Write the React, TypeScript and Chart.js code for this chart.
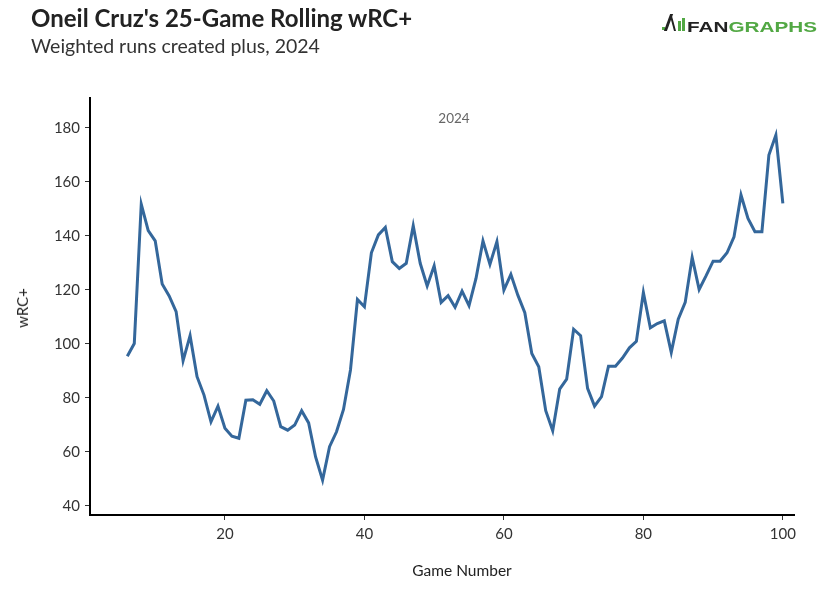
import React, { useEffect, useRef } from "react";
import { Chart, registerables } from "chart.js";

Chart.register(...registerables);

const GAMES: number[] = [
  6, 7, 8, 9, 10, 11, 12, 13, 14, 15, 16, 17, 18, 19, 20, 21, 22, 23, 24, 25,
  26, 27, 28, 29, 30, 31, 32, 33, 34, 35, 36, 37, 38, 39, 40, 41, 42, 43, 44, 45,
  46, 47, 48, 49, 50, 51, 52, 53, 54, 55, 56, 57, 58, 59, 60, 61, 62, 63, 64, 65,
  66, 67, 68, 69, 70, 71, 72, 73, 74, 75, 76, 77, 78, 79, 80, 81, 82, 83, 84, 85,
  86, 87, 88, 89, 90, 91, 92, 93, 94, 95, 96, 97, 98, 99, 100,
];

const WRC_PLUS: number[] = [
  95.4, 100.1, 151.7, 141.9, 138.1, 122.1, 117.7, 111.9, 93.7, 103,
  87.8, 81, 71.1, 76.9, 68.7, 65.8, 65, 79.1, 79.3, 77.6,
  82.6, 78.8, 69.3, 68, 69.9, 75.2, 70.7, 58.1, 49.5, 61.9,
  67.4, 75.7, 90.3, 116.4, 113.7, 133.7, 140.3, 143.1, 130.4, 127.9,
  129.8, 143.7, 129.8, 121.4, 128.9, 115.3, 117.8, 113.5, 119.5, 114.1,
  124.2, 138.1, 129.4, 137.8, 119.9, 125.7, 118, 111.5, 96.4, 91.5,
  75.2, 67.8, 83.2, 86.9, 105.4, 103, 83.5, 76.9, 80.4, 91.7,
  91.7, 94.7, 98.5, 100.9, 119, 105.9, 107.5, 108.5, 96.8, 109.1,
  115.3, 132, 120.1, 125.2, 130.6, 130.6, 133.7, 139.6, 155.1, 146.4,
  141.5, 141.5, 169.9, 177.3, 152,
];

const X_TICKS: number[] = [20, 40, 60, 80, 100];
const Y_TICKS: number[] = [40, 60, 80, 100, 120, 140, 160, 180];

const TITLE = "Oneil Cruz's 25-Game Rolling wRC+";
const SUBTITLE = "Weighted runs created plus, 2024";
const X_TITLE = "Game Number";
const Y_TITLE = "wRC+";
const PANEL_LABEL = "2024";

const LINE_COLOR = "#34679b";
const GREEN = "#52a844";

export default function App() {
  const canvasRef = useRef<HTMLCanvasElement | null>(null);

  useEffect(() => {
    document.body.style.margin = "0";
    const canvas = canvasRef.current;
    if (!canvas) return;
    const tickFont = { family: "Lato", size: 15 };
    const chart = new Chart(canvas, {
      type: "line",
      data: {
        datasets: [
          {
            data: GAMES.map((g, i) => ({ x: g, y: WRC_PLUS[i] })),
            borderColor: LINE_COLOR,
            borderWidth: 3,
            pointRadius: 0,
            tension: 0,
            fill: false,
          },
        ],
      },
      options: {
        animation: false,
        responsive: false,
        maintainAspectRatio: false,
        devicePixelRatio: 1,
        layout: { padding: { top: 98, right: 31, left: 0, bottom: 0 } },
        plugins: {
          legend: { display: false },
          tooltip: { enabled: false },
        },
        scales: {
          x: {
            type: "linear",
            min: 0.65,
            max: 101.6,
            afterBuildTicks: (s: any) => {
              s.ticks = X_TICKS.map((v) => ({ value: v }));
            },
            afterFit: (s: any) => {
              s.height = 76;
            },
            grid: {
              display: true,
              drawOnChartArea: false,
              drawTicks: true,
              tickLength: 5,
              color: "#333",
              lineWidth: 1,
            },
            border: { display: true, color: "#000", width: 2 },
            ticks: {
              font: tickFont,
              color: "#333",
              padding: 5,
              maxRotation: 0,
            },
          },
          y: {
            type: "linear",
            min: 36.6,
            max: 191,
            afterBuildTicks: (s: any) => {
              s.ticks = Y_TICKS.map((v) => ({ value: v }));
            },
            afterFit: (s: any) => {
              s.width = 90;
            },
            grid: {
              display: true,
              drawOnChartArea: false,
              drawTicks: true,
              tickLength: 5,
              color: "#333",
              lineWidth: 1,
            },
            border: { display: true, color: "#000", width: 2 },
            ticks: {
              font: tickFont,
              color: "#333",
              padding: 5,
            },
          },
        },
      },
    });
    let alive = true;
    (document as any).fonts?.ready?.then(() => {
      if (alive) chart.update();
    });
    return () => {
      alive = false;
      chart.destroy();
    };
  }, []);

  const abs = (s: React.CSSProperties): React.CSSProperties => ({
    position: "absolute",
    whiteSpace: "nowrap",
    ...s,
  });

  return (
    <div style={{ position: "relative", width: 825, height: 591, background: "#fff", overflow: "hidden" }}>
      <canvas ref={canvasRef} width={825} height={591} style={{ position: "absolute", left: 0, top: 0, width: 825, height: 591 }} />
      <div style={abs({ left: 31, top: 5.5, font: "bold 24px Lato", lineHeight: 1, color: "#222" })}>{TITLE}</div>
      <div style={abs({ left: 31, top: 36, font: "19.5px Lato", lineHeight: 1, color: "#333" })}>{SUBTITLE}</div>
      {/* logo */}
      <div style={abs({ left: 662, top: 27, width: 3, height: 3, background: GREEN })} />
      <div style={abs({ left: 667, top: 14, width: 3, height: 17, background: "#222", transform: "skewX(-20deg)" })} />
      <div style={abs({ left: 672, top: 16, width: 2, height: 15, background: "#222", transform: "skewX(15deg)" })} />
      <div style={abs({ left: 678, top: 21, width: 2.5, height: 10, background: GREEN })} />
      <div style={abs({ left: 682, top: 18, width: 2.5, height: 13, background: GREEN })} />
      <div
        style={abs({
          left: 687,
          top: 18.5,
          font: "bold 15px 'Liberation Sans', Arial, sans-serif",
          lineHeight: 1,
          transform: "scaleX(1.38)",
          transformOrigin: "left top",
        })}
      >
        <span style={{ color: "#222" }}>FAN</span>
        <span style={{ color: GREEN }}>GRAPHS</span>
      </div>
      <div style={abs({ left: 454, top: 118, transform: "translate(-50%, -50%)", font: "13.5px Lato", color: "#666" })}>{PANEL_LABEL}</div>
      <div style={abs({ left: 462, top: 570, transform: "translate(-50%, -50%)", font: "15.5px Lato", color: "#222" })}>{X_TITLE}</div>
      <div style={abs({ left: 21.5, top: 308, transform: "translate(-50%, -50%) rotate(-90deg)", font: "15px Lato", color: "#222" })}>{Y_TITLE}</div>
    </div>
  );
}
